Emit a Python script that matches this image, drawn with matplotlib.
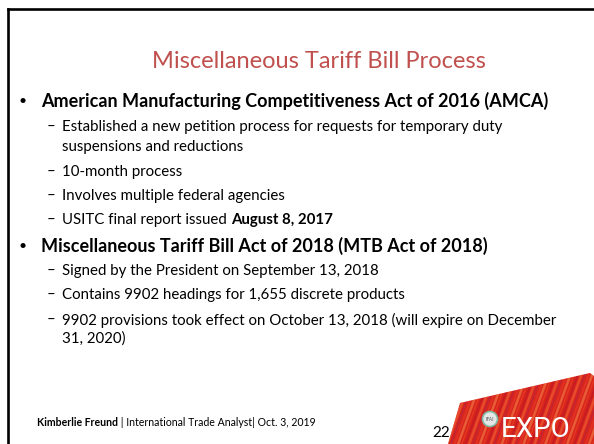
import numpy as np
import matplotlib.pyplot as plt
from matplotlib.patches import Polygon, Circle

title = 'Miscellaneous Tariff Bill Process'
title_color = '#C0504D'

# (level, normal text, bold tail)
lines = [
    (1, 'American Manufacturing Competitiveness Act of 2016 (AMCA)', ''),
    (2, 'Established a new petition process for requests for temporary duty', ''),
    (3, 'suspensions and reductions', ''),
    (2, '10-month process', ''),
    (2, 'Involves multiple federal agencies', ''),
    (2, 'USITC final report issued ', 'August 8, 2017'),
    (1, 'Miscellaneous Tariff Bill Act of 2018 (MTB Act of 2018)', ''),
    (2, 'Signed by the President on September 13, 2018', ''),
    (2, 'Contains 9902 headings for 1,655 discrete products', ''),
    (2, '9902 provisions took effect on October 13, 2018 (will expire on December', ''),
    (3, '31, 2020)', ''),
]
line_y = [101, 127, 147, 172, 196, 220, 246, 271, 295, 320, 339]

footer_name = 'Kimberlie Freund'
footer_rest = ' | International Trade Analyst| Oct. 3, 2019'
page_no = '22'

FONT = ['Lato', 'DejaVu Sans']

fig = plt.figure(figsize=(5.94, 4.44), dpi=100)
ax = fig.add_axes([0, 0, 1, 1])
ax.set_xlim(0, 594)
ax.set_ylim(444, 0)
ax.axis('off')

# slide frame
ax.plot([8, 8], [444, 9], color='black', lw=1.9, solid_capstyle='projecting')
ax.plot([8, 594], [9, 9], color='black', lw=1.9, solid_capstyle='projecting')

ax.text(319, 62, title, color=title_color, fontsize=17, family=FONT,
        ha='center', va='center')

for (lvl, txt, bold), y in zip(lines, line_y):
    if lvl == 1:
        ax.text(23, y, '•', fontsize=10, family=FONT, va='center', ha='center')
        ax.text(41, y, txt, fontsize=13, fontweight='bold', family=FONT, va='center')
    else:
        if lvl == 2:
            ax.text(51, y, '–', fontsize=10.8, family=FONT, va='center', ha='center')
        t = ax.text(62, y, txt, fontsize=10.8, family=FONT, va='center')
        if bold:
            ax.annotate(bold, xy=(1, 0), xycoords=t, va='bottom', ha='left',
                        fontsize=10.8, fontweight='bold', family=FONT)

t = ax.text(37, 422, footer_name, fontsize=7.6, fontweight='bold', family=FONT, va='center')
ax.annotate(footer_rest, xy=(1, 0), xycoords=t, va='bottom', ha='left',
            fontsize=7.6, family=FONT)

# EXPO logo
shape = Polygon([(448, 444), (460, 403), (590, 373), (594, 376), (594, 444)],
                closed=True, facecolor='#D9261C', edgecolor='none', zorder=1)
ax.add_patch(shape)
cols = ['#EE4B2B', '#B3122B', '#F26B3A', '#A3235A', '#E83A2B', '#F58A4B']
for i, x0 in enumerate(np.linspace(440, 600, 45)):
    ln, = ax.plot([x0, x0 + 26], [444, 372], color=cols[i % len(cols)],
                  lw=0.8 + (i % 3) * 0.5, alpha=0.55, zorder=2)
    ln.set_clip_path(shape)
ax.add_patch(Circle((490, 419), 7.5, facecolor='#E6E6E6', edgecolor='#7FB8A0', lw=1.2, zorder=3))
ax.text(490, 419, 'IFAI', fontsize=3.5, color='#555555', ha='center', va='center', zorder=4)
ax.text(501, 437, 'EXPO', fontsize=20, color='white', family=['Liberation Sans Narrow', 'Roboto'],
        ha='left', va='baseline', zorder=4)

ax.text(441, 433, page_no, fontsize=11, family=FONT, ha='center', va='center', zorder=4)

fig.savefig('out.png', dpi=100)
